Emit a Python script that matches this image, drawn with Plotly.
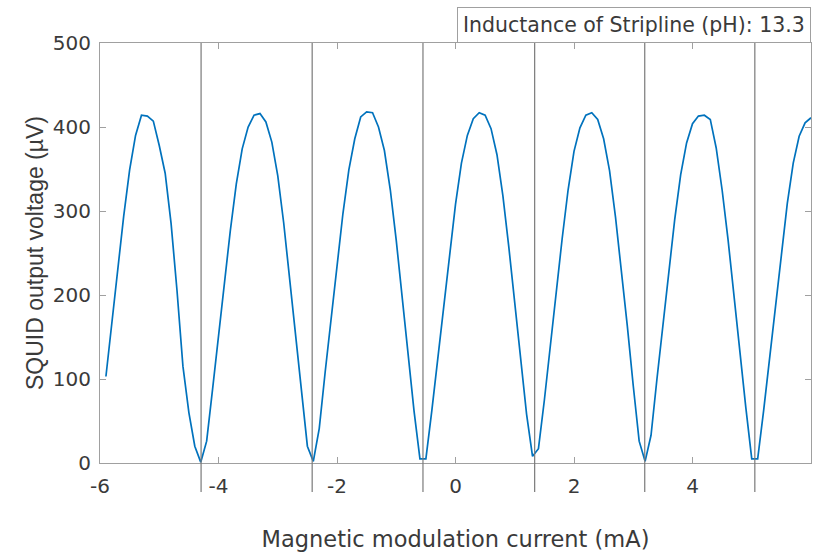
import plotly.graph_objects as go

# Magnetic modulation current (mA)
current_mA = [
    -5.9, -5.8, -5.7, -5.6, -5.5, -5.4, -5.3, -5.2, -5.1, -5.0,
    -4.9, -4.8, -4.7, -4.6, -4.5, -4.4, -4.3, -4.2, -4.1, -4.0,
    -3.9, -3.8, -3.7, -3.6, -3.5, -3.4, -3.3, -3.2, -3.1, -3.0,
    -2.9, -2.8, -2.7, -2.6, -2.5, -2.4, -2.3, -2.2, -2.1, -2.0,
    -1.9, -1.8, -1.7, -1.6, -1.5, -1.4, -1.3, -1.2, -1.1, -1.0,
    -0.9, -0.8, -0.7, -0.6, -0.5, -0.4, -0.3, -0.2, -0.1, 0.0,
    0.1, 0.2, 0.3, 0.4, 0.5, 0.6, 0.7, 0.8, 0.9, 1.0,
    1.1, 1.2, 1.3, 1.4, 1.5, 1.6, 1.7, 1.8, 1.9, 2.0,
    2.1, 2.2, 2.3, 2.4, 2.5, 2.6, 2.7, 2.8, 2.9, 3.0,
    3.1, 3.2, 3.3, 3.4, 3.5, 3.6, 3.7, 3.8, 3.9, 4.0,
    4.1, 4.2, 4.3, 4.4, 4.5, 4.6, 4.7, 4.8, 4.9, 5.0,
    5.1, 5.2, 5.3, 5.4, 5.5, 5.6, 5.7, 5.8, 5.9, 6.0,
]

# SQUID output voltage (µV)
voltage_uV = [
    103, 168, 232, 294, 349, 390, 414, 413, 407, 378,
    345, 285, 205, 115, 60, 20, 1, 26, 88, 151,
    212, 277, 332, 374, 400, 414, 416, 406, 382, 342,
    286, 220, 155, 86, 20, 2, 41, 108, 172, 235,
    297, 349, 386, 412, 418, 417, 400, 372, 325, 265,
    197, 130, 62, 5, 5, 62, 124, 186, 249, 308,
    357, 390, 410, 417, 414, 398, 367, 318, 257, 190,
    124, 58, 8, 17, 75, 140, 204, 267, 325, 371,
    399, 414, 417, 409, 386, 348, 293, 229, 163, 92,
    26, 2, 33, 100, 164, 227, 290, 343, 381, 404,
    413, 414, 409, 375, 325, 266, 197, 132, 66, 5,
    5, 62, 124, 187, 251, 309, 357, 389, 405, 411,
]

# positions of the vertical marker lines (voltage minima), mA
dip_currents = [-4.294, -2.419, -0.549, 1.336, 3.194, 5.052]

x_ticks = [-6, -4, -2, 0, 2, 4, 6]
y_ticks = [0, 100, 200, 300, 400, 500]

label_text = "Inductance of Stripline (pH): 13.3"

fig = go.Figure()
fig.add_trace(go.Scatter(
    x=current_mA, y=voltage_uV, mode="lines",
    line=dict(color="#0072BD", width=1.7),
    showlegend=False,
))

for xv in dip_currents:
    fig.add_shape(type="line", xref="x", yref="paper",
                  x0=xv, x1=xv, y0=-0.069, y1=1.0,
                  line=dict(color="#7a7a7a", width=1.2), layer="above")

axis_common = dict(
    showgrid=False, zeroline=False,
    showline=True, linecolor="#a0a0a0", linewidth=1.2,
    mirror="ticks", ticks="inside", ticklen=6, tickwidth=1,
    tickcolor="#a0a0a0",
    tickfont=dict(family="DejaVu Sans", size=20, color="#3a3a3a"),
)

fig.update_layout(
    width=817, height=554,
    margin=dict(l=100, r=6, t=43, b=91),
    paper_bgcolor="white", plot_bgcolor="white",
    xaxis=dict(
        range=[-6, 6], tickvals=x_ticks, ticktext=[str(v) for v in x_ticks],
        ticklabelstandoff=5,
        title=dict(text="Magnetic modulation current (mA)",
                   font=dict(family="DejaVu Sans", size=22.5, color="#3a3a3a"),
                   standoff=34),
        **axis_common,
    ),
    yaxis=dict(
        range=[0, 500], tickvals=y_ticks, ticktext=[str(v) for v in y_ticks],
        ticklabelstandoff=4,
        title=dict(text="SQUID output voltage (µV)",
                   font=dict(family="Liberation Sans", size=23, color="#3a3a3a"),
                   standoff=2),
        **axis_common,
    ),
    annotations=[dict(
        text=label_text, xref="paper", yref="paper",
        x=1.0, y=1.0, xanchor="right", yanchor="bottom",
        showarrow=False, bgcolor="white",
        bordercolor="#a0a0a0", borderwidth=1, borderpad=5,
        font=dict(family="DejaVu Sans", size=20.5, color="#3a3a3a"),
    )],
)

fig.write_html("out.html")
